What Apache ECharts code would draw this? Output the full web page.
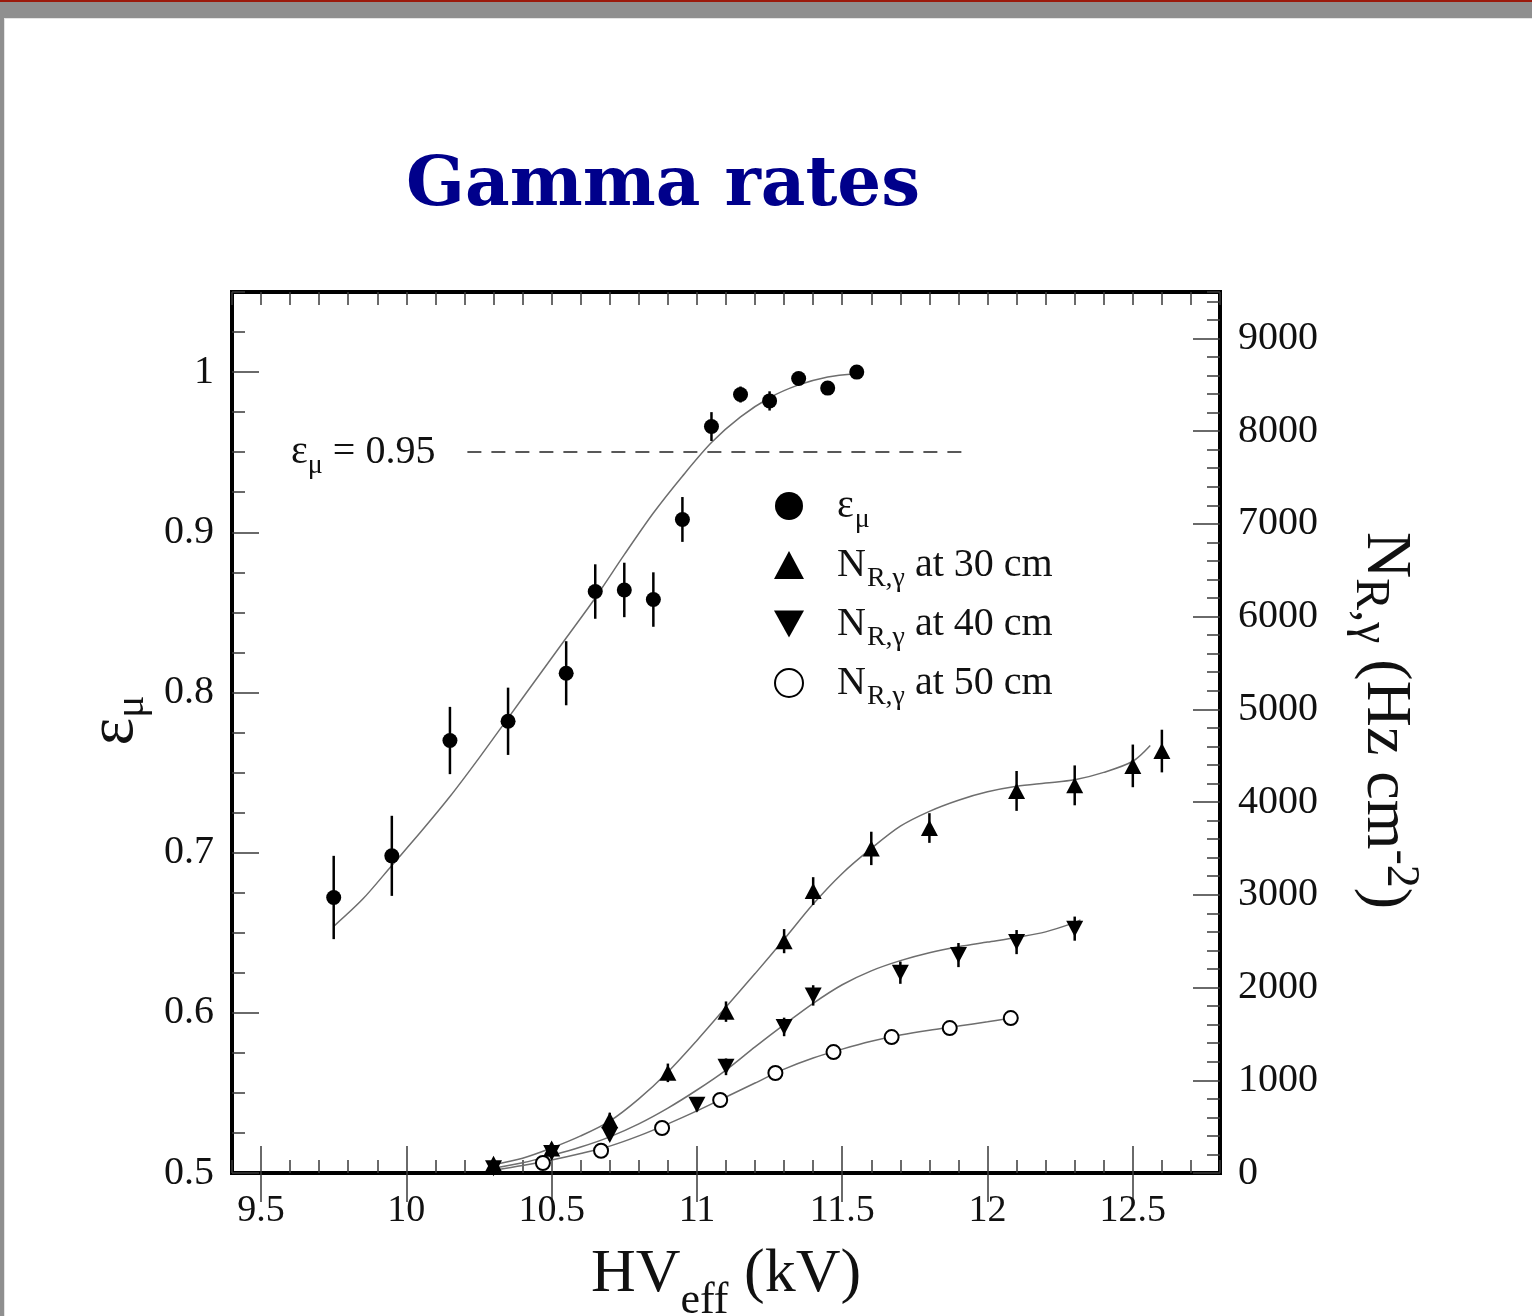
<!DOCTYPE html>
<html>
<head>
<meta charset="utf-8">
<title>Gamma rates</title>
<script src="https://cdn.jsdelivr.net/npm/echarts@6/dist/echarts.min.js"></script>
<style>
    html, body { margin: 0; padding: 0; }
    body { width: 1532px; height: 1316px; background: #8f8f8f; position: relative; overflow: hidden; }
    #topLine { position: absolute; left: 0; top: 0; width: 1532px; height: 2px; background: #9b1a0c; }
    #slide { position: absolute; left: 4px; top: 18px; right: 0; bottom: 0; background: #fff; border-top: 1px solid #e4e4e4; border-left: 1px solid #e4e4e4; }
    #chartRoot { position: absolute; left: 0; top: 0; width: 1532px; height: 1316px; }
</style>
</head>
<body>
<div id="topLine"></div>
<div id="slide"></div>
<div id="chartRoot"></div>
<script>
    // 刻度
    const xTicks = [9.5, 10, 10.5, 11, 11.5, 12, 12.5];
    const yLeftTicks = [0.5, 0.6, 0.7, 0.8, 0.9, 1];
    const yRightTicks = [0, 1000, 2000, 3000, 4000, 5000, 6000, 7000, 8000, 9000];

    // 效率 (左轴)
    const effX = [9.75, 9.95, 10.15, 10.35, 10.55, 10.65, 10.75, 10.85, 10.95, 11.05, 11.15, 11.25, 11.35, 11.45, 11.55];
    const effY = [0.672, 0.698, 0.770, 0.782, 0.812, 0.863, 0.864, 0.858, 0.908, 0.966, 0.986, 0.982, 0.996, 0.990, 1.000];
    const effErr = [0.026, 0.025, 0.021, 0.021, 0.020, 0.017, 0.017, 0.017, 0.014, 0.009, 0.005, 0.006, 0.004, 0.004, 0.003];
    const effFitX = [9.75, 9.85, 9.95, 10.05, 10.15, 10.25, 10.35, 10.45, 10.55, 10.65, 10.75, 10.85, 10.95, 11.05, 11.15, 11.25, 11.35, 11.45, 11.55];
    const effFitY = [0.654, 0.671, 0.692, 0.713, 0.735, 0.759, 0.784, 0.809, 0.834, 0.859, 0.886, 0.912, 0.935, 0.956, 0.972, 0.984, 0.992, 0.997, 0.999];

    // 计数率 (右轴)
    const r30X = [10.3, 10.5, 10.7, 10.9, 11.1, 11.3, 11.4, 11.6, 11.8, 12.1, 12.3, 12.5, 12.6];
    const r30Y = [100, 265, 570, 1080, 1740, 2500, 3040, 3500, 3720, 4120, 4180, 4390, 4550];
    const r30Err = [40, 60, 80, 100, 110, 130, 150, 180, 160, 215, 215, 230, 230];
    const fit30X = [10.3, 10.4, 10.5, 10.6, 10.7, 10.8, 10.9, 11.0, 11.1, 11.2, 11.3, 11.4, 11.5, 11.6, 11.7, 11.8, 11.9, 12.0, 12.1, 12.2, 12.3, 12.4, 12.5, 12.56];
    const fit30Y = [90, 160, 270, 400, 560, 800, 1090, 1430, 1790, 2150, 2520, 2900, 3230, 3500, 3740, 3900, 4020, 4110, 4170, 4205, 4240, 4320, 4440, 4610];

    const r40X = [10.3, 10.5, 10.7, 11.0, 11.1, 11.3, 11.4, 11.7, 11.9, 12.1, 12.3];
    const r40Y = [50, 215, 410, 735, 1145, 1575, 1915, 2160, 2350, 2490, 2635];
    const r40Err = [20, 40, 60, 70, 90, 100, 110, 120, 130, 130, 130];
    const fit40X = [10.3, 10.4, 10.5, 10.6, 10.7, 10.8, 10.9, 11.0, 11.1, 11.2, 11.3, 11.4, 11.5, 11.6, 11.7, 11.8, 11.9, 12.0, 12.1, 12.2, 12.3, 12.32];
    const fit40Y = [50, 110, 190, 280, 390, 530, 700, 895, 1110, 1360, 1600, 1830, 2030, 2180, 2290, 2375, 2440, 2490, 2540, 2600, 2700, 2730];

    const r50X = [10.47, 10.67, 10.88, 11.08, 11.27, 11.47, 11.67, 11.87, 12.08];
    const r50Y = [108, 240, 485, 787, 1078, 1304, 1466, 1563, 1671];
    const fit50X = [10.3, 10.4, 10.5, 10.6, 10.7, 10.8, 10.9, 11.0, 11.1, 11.2, 11.3, 11.4, 11.5, 11.6, 11.7, 11.8, 11.9, 12.0, 12.08];
    const fit50Y = [30, 80, 140, 210, 290, 400, 530, 670, 820, 970, 1120, 1240, 1336, 1420, 1487, 1540, 1584, 1630, 1670];

    const effLine = [10.21, 11.91]; // ε = 0.95 虚线范围

    const serif = "Liberation Serif";
    const downTriangle = "path://M0,0 L20,0 L10,18 Z";

    const pairs = (xs, ys) => xs.map((x, i) => [x, ys[i]]);
    const errPairs = (xs, ys, es) => xs.map((x, i) => [x, ys[i] - es[i], ys[i] + es[i]]);

    const tickLine = { color: "#3a3a3a", width: 1.5 };

    const errorBars = (data, yIndex) => ({
        type: "custom",
        xAxisIndex: 0,
        yAxisIndex: yIndex,
        silent: true,
        z: 3,
        data: data,
        renderItem: (params, api) => {
            const p1 = api.coord([api.value(0), api.value(1)]);
            const p2 = api.coord([api.value(0), api.value(2)]);
            return {
                type: "line",
                shape: { x1: p1[0], y1: p1[1], x2: p2[0], y2: p2[1] },
                style: { stroke: "#000", lineWidth: 2.5 }
            };
        }
    });

    const fitLine = (data, yIndex) => ({
        type: "line",
        xAxisIndex: 0,
        yAxisIndex: yIndex,
        data: data,
        smooth: 0.3,
        showSymbol: false,
        silent: true,
        z: 2,
        lineStyle: { color: "#6e6e6e", width: 1.5 }
    });

    const legendNames = {
        eff: "{m|ε}{s|μ}",
        r30: "{m|N}{s|R,γ}{m| at 30 cm}",
        r40: "{m|N}{s|R,γ}{m| at 40 cm}",
        r50: "{m|N}{s|R,γ}{m| at 50 cm}"
    };

    const myChart = echarts.init(document.querySelector("#chartRoot"), null, { renderer: "canvas" });

    const option = {
        animation: false,
        title: {
            text: "Gamma rates",
            left: 406,
            top: 153,
            padding: 0,
            textStyle: { fontFamily: "DejaVu Serif", fontWeight: "bold", fontSize: 69, color: "#00008b" }
        },
        legend: {
            orient: "vertical",
            left: 769,
            top: 473,
            itemWidth: 30,
            itemHeight: 28,
            itemGap: 3,
            data: ["eff", "r30", "r40", "r50"],
            formatter: name => legendNames[name],
            textStyle: {
                fontFamily: serif,
                color: "#111",
                padding: [0, 0, 0, 28],
                rich: {
                    m: { fontFamily: serif, fontSize: 40, color: "#111", lineHeight: 44 },
                    s: { fontFamily: serif, fontSize: 28, color: "#111", lineHeight: 26, padding: [28, 0, 0, 1] }
                }
            }
        },
        grid: {
            left: 232,
            top: 292,
            width: 988,
            height: 881,
            outerBoundsMode: "none",
            show: true,
            borderColor: "#000",
            borderWidth: 4,
            backgroundColor: "transparent"
        },
        xAxis: [
            {
                type: "value", min: 9.4, max: 12.8, position: "bottom",
                axisLine: { show: false },
                splitLine: { show: false },
                axisTick: { inside: true, length: 27, customValues: xTicks, lineStyle: tickLine },
                axisLabel: { customValues: xTicks, formatter: v => String(v), fontFamily: serif, fontSize: 38, color: "#111", margin: 19 },
                name: "{m|HV}{s|eff}{m| (kV)}",
                nameLocation: "middle",
                nameGap: 70,
                nameMoveOverlap: false,
                nameTextStyle: {
                    rich: {
                        m: { fontFamily: serif, fontSize: 62, color: "#111", lineHeight: 64 },
                        s: { fontFamily: serif, fontSize: 44, color: "#111", lineHeight: 40, padding: [52, 0, 0, 0] }
                    }
                }
            },
            {
                type: "value", min: 9.4, max: 12.8, position: "top",
                axisLine: { show: false },
                splitLine: { show: false },
                axisTick: { inside: true, length: 29, customValues: xTicks, lineStyle: tickLine },
                axisLabel: { show: false }
            },
            {
                type: "value", min: 9.4, max: 12.8, interval: 0.1, position: "bottom",
                axisLine: { show: false },
                splitLine: { show: false },
                axisTick: { inside: true, length: 13, lineStyle: tickLine },
                axisLabel: { show: false }
            },
            {
                type: "value", min: 9.4, max: 12.8, interval: 0.1, position: "top",
                axisLine: { show: false },
                splitLine: { show: false },
                axisTick: { inside: true, length: 13, lineStyle: tickLine },
                axisLabel: { show: false }
            }
        ],
        yAxis: [
            {
                type: "value", min: 0.5, max: 1.05, position: "left",
                axisLine: { show: false },
                splitLine: { show: false },
                axisTick: { inside: true, length: 27, customValues: yLeftTicks, lineStyle: tickLine },
                axisLabel: { customValues: yLeftTicks, formatter: v => String(v), fontFamily: serif, fontSize: 40, color: "#111", margin: 18 },
                name: "{m|ε}{s|μ}",
                nameLocation: "middle",
                nameRotate: 90,
                nameGap: 84,
                nameTextStyle: {
                    padding: [0, 0, 0, 24],
                    rich: {
                        m: { fontFamily: serif, fontSize: 66, color: "#111", lineHeight: 66 },
                        s: { fontFamily: serif, fontSize: 42, color: "#111", lineHeight: 40, padding: [34, 0, 0, 0] }
                    }
                }
            },
            {
                type: "value", min: 0, max: 9500, position: "right",
                axisLine: { show: false },
                splitLine: { show: false },
                axisTick: { inside: true, length: 27, customValues: yRightTicks, lineStyle: tickLine },
                axisLabel: { customValues: yRightTicks, formatter: v => String(v), fontFamily: serif, fontSize: 40, color: "#111", margin: 18 },
                name: "{m|N}{s|R,γ}{m| (Hz cm}{p|-2}{m|)}",
                nameLocation: "middle",
                nameRotate: -90,
                nameGap: 133,
                nameTextStyle: {
                    padding: [0, 24, 0, 0],
                    rich: {
                        m: { fontFamily: serif, fontSize: 64, color: "#111", lineHeight: 64 },
                        s: { fontFamily: serif, fontSize: 48, color: "#111", lineHeight: 40, padding: [30, 0, 0, 0] },
                        p: { fontFamily: serif, fontSize: 46, color: "#111", lineHeight: 40, padding: [0, 0, 30, 0] }
                    }
                }
            },
            {
                type: "value", min: 0.5, max: 1.05, interval: 0.025, position: "left",
                axisLine: { show: false },
                splitLine: { show: false },
                axisTick: { inside: true, length: 13, lineStyle: tickLine },
                axisLabel: { show: false }
            },
            {
                type: "value", min: 0, max: 9500, interval: 200, position: "right",
                axisLine: { show: false },
                splitLine: { show: false },
                axisTick: { inside: true, length: 13, lineStyle: tickLine },
                axisLabel: { show: false }
            }
        ],
        series: [
            fitLine(pairs(effFitX, effFitY), 0),
            fitLine(pairs(fit30X, fit30Y), 1),
            fitLine(pairs(fit40X, fit40Y), 1),
            fitLine(pairs(fit50X, fit50Y), 1),
            errorBars(errPairs(effX, effY, effErr), 0),
            errorBars(errPairs(r30X, r30Y, r30Err), 1),
            errorBars(errPairs(r40X, r40Y, r40Err), 1),
            {
                name: "eff",
                type: "scatter",
                xAxisIndex: 0,
                yAxisIndex: 0,
                symbol: "circle",
                symbolSize: 15,
                z: 4,
                itemStyle: { color: "#000", opacity: 1 },
                data: pairs(effX, effY),
                markLine: {
                    silent: true,
                    symbol: "none",
                    lineStyle: { color: "#222", width: 1.5, type: [14, 10] },
                    label: {
                        show: true,
                        position: "start",
                        distance: 32,
                        formatter: "{m|ε}{s|μ}{m| = 0.95}",
                        rich: {
                            m: { fontFamily: serif, fontSize: 40, color: "#111", lineHeight: 40 },
                            s: { fontFamily: serif, fontSize: 28, color: "#111", lineHeight: 26, padding: [26, 0, 0, 0] }
                        }
                    },
                    data: [[{ coord: [effLine[0], 0.95] }, { coord: [effLine[1], 0.95] }]]
                }
            },
            {
                name: "r30",
                type: "scatter",
                xAxisIndex: 0,
                yAxisIndex: 1,
                symbol: "triangle",
                symbolSize: [17, 16],
                z: 4,
                itemStyle: { color: "#000", opacity: 1 },
                data: pairs(r30X, r30Y)
            },
            {
                name: "r40",
                type: "scatter",
                xAxisIndex: 0,
                yAxisIndex: 1,
                symbol: downTriangle,
                symbolSize: [17, 16],
                z: 4,
                itemStyle: { color: "#000", opacity: 1 },
                data: pairs(r40X, r40Y)
            },
            {
                name: "r50",
                type: "scatter",
                xAxisIndex: 0,
                yAxisIndex: 1,
                symbol: "emptyCircle",
                symbolSize: 14,
                z: 4,
                itemStyle: { color: "#000", borderColor: "#000", borderWidth: 2.2, opacity: 1 },
                data: pairs(r50X, r50Y)
            }
        ]
    };
    myChart.setOption(option, true);
</script>
</body>
</html>
